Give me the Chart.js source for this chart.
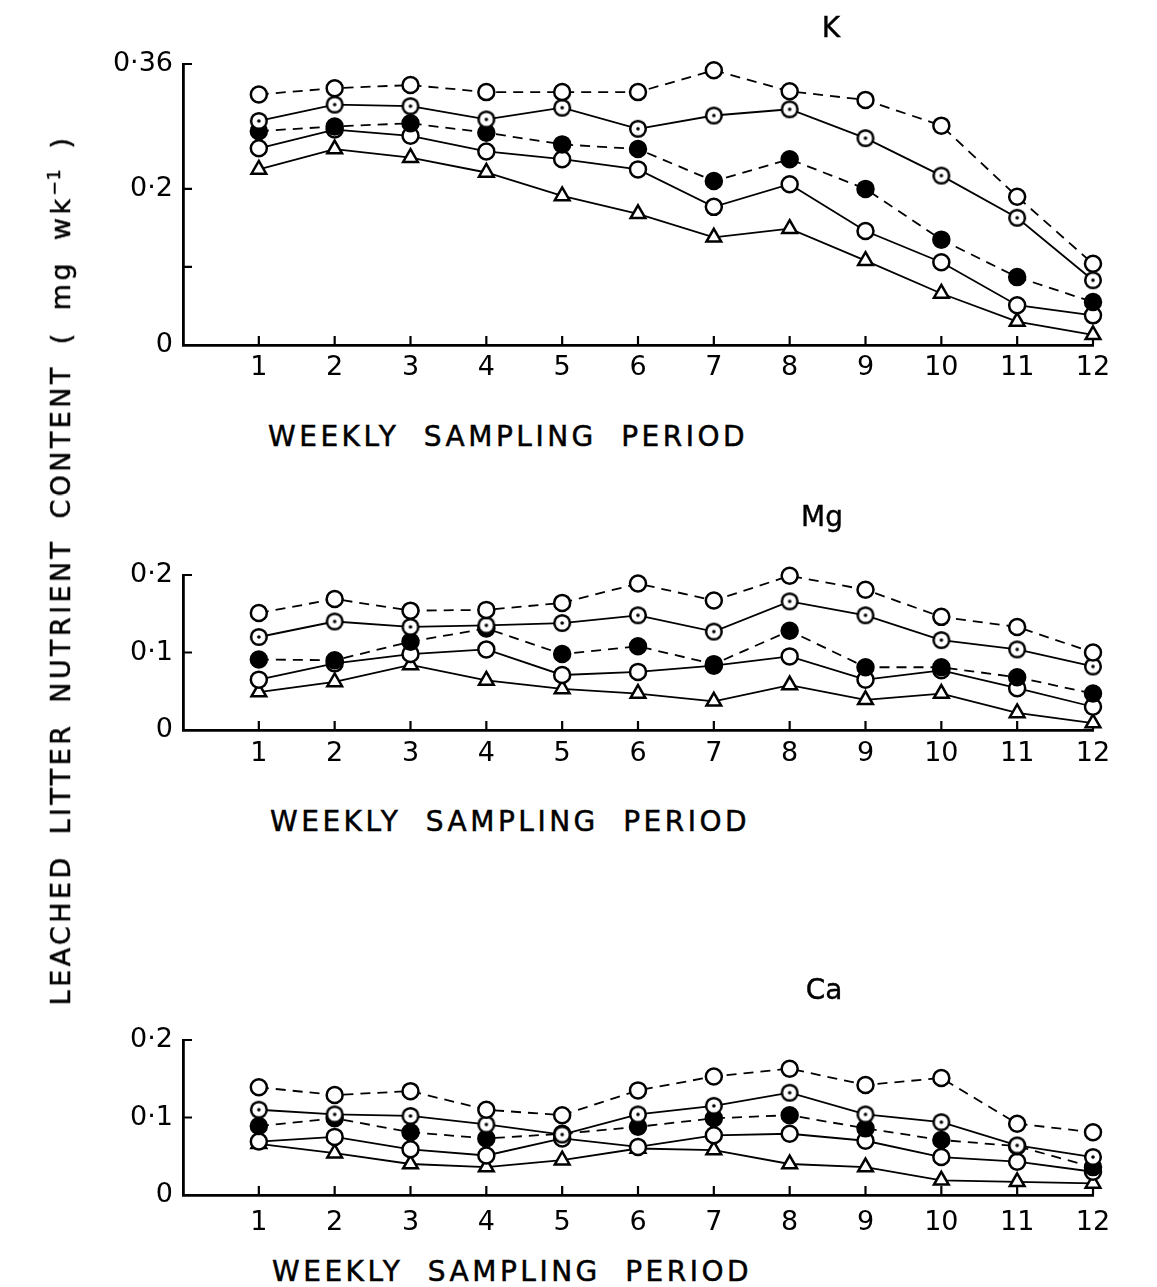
<!DOCTYPE html>
<html>
<head>
<meta charset="utf-8">
<script src="https://cdn.jsdelivr.net/npm/chart.js@4.4.0/dist/chart.umd.min.js"></script>
<style>
  body { margin: 0; background: #fff; }
  #page { position: relative; width: 1157px; height: 1287px; overflow: hidden; font-family: "DejaVu Sans", sans-serif; color: #000; }
  #page canvas { position: absolute; left: 0; }
  .lbl { position: absolute; white-space: nowrap; line-height: 1; }
  .xtitle { font-size: 28px; letter-spacing: 3.5px; word-spacing: 12px; transform: translateY(-50%); -webkit-text-stroke: 0.5px #000; }
  .ptitle { font-size: 28px; transform: translate(-50%, -50%); -webkit-text-stroke: 0.4px #000; }
  #ytitle { left: 60px; top: 570px; font-size: 27px; letter-spacing: 3.4px; word-spacing: 8px; transform: translate(-50%, -50%) rotate(-90deg); -webkit-text-stroke: 0.5px #000; }
  #ytitle sup { font-size: 17px; letter-spacing: 1px; }
</style>
</head>
<body>
<div id="page">
  <canvas id="kChart" width="1157" height="400" style="top:0px"></canvas>
  <canvas id="mgChart" width="1157" height="290" style="top:500px"></canvas>
  <canvas id="caChart" width="1157" height="250" style="top:1000px"></canvas>

  <div class="lbl" id="ytitle">LEACHED LITTER NUTRIENT CONTENT ( mg wk<sup>−1</sup> )</div>

  <div class="lbl ptitle" style="left:831px; top:28px;">K</div>
  <div class="lbl ptitle" style="left:822px; top:517px;">Mg</div>
  <div class="lbl ptitle" style="left:824px; top:990px;">Ca</div>

  <div class="lbl xtitle" style="left:268px; top:437px;">WEEKLY SAMPLING PERIOD</div>
  <div class="lbl xtitle" style="left:270px; top:822px;">WEEKLY SAMPLING PERIOD</div>
  <div class="lbl xtitle" style="left:272px; top:1272px;">WEEKLY SAMPLING PERIOD</div>
</div>

<script>
// weekly sampling periods
const weeks = [1, 2, 3, 4, 5, 6, 7, 8, 9, 10, 11, 12];

// K (mg wk-1)
const kOpenDashed   = [0.321, 0.329, 0.333, 0.324, 0.324, 0.324, 0.352, 0.325, 0.314, 0.281, 0.190, 0.104];
const kDotSolid     = [0.287, 0.308, 0.306, 0.289, 0.304, 0.277, 0.294, 0.302, 0.265, 0.217, 0.163, 0.083];
const kFilledDashed = [0.274, 0.280, 0.284, 0.272, 0.257, 0.251, 0.210, 0.238, 0.200, 0.135, 0.087, 0.055];
const kOpenSolid    = [0.252, 0.276, 0.268, 0.248, 0.238, 0.225, 0.177, 0.206, 0.146, 0.106, 0.051, 0.038];
const kTriangle     = [0.225, 0.251, 0.240, 0.221, 0.191, 0.168, 0.138, 0.149, 0.108, 0.066, 0.030, 0.013];

// Mg
const mgOpenDashed   = [0.151, 0.169, 0.154, 0.155, 0.164, 0.189, 0.167, 0.199, 0.181, 0.146, 0.133, 0.100];
const mgDotSolid     = [0.120, 0.140, 0.133, 0.135, 0.138, 0.148, 0.127, 0.166, 0.148, 0.116, 0.104, 0.082];
const mgFilledDashed = [0.091, 0.090, 0.114, 0.131, 0.098, 0.108, 0.085, 0.128, 0.081, 0.081, 0.068, 0.047];
const mgOpenSolid    = [0.065, 0.086, 0.098, 0.104, 0.071, 0.075, 0.083, 0.095, 0.065, 0.077, 0.054, 0.030];
const mgTriangle     = [0.049, 0.062, 0.084, 0.064, 0.053, 0.047, 0.037, 0.058, 0.039, 0.047, 0.022, 0.009];

// Ca
const caOpenDashed   = [0.139, 0.129, 0.134, 0.110, 0.103, 0.135, 0.153, 0.163, 0.142, 0.151, 0.092, 0.081];
const caDotSolid     = [0.110, 0.104, 0.102, 0.091, 0.078, 0.104, 0.115, 0.132, 0.104, 0.094, 0.064, 0.049];
const caFilledDashed = [0.089, 0.099, 0.081, 0.073, 0.079, 0.088, 0.099, 0.103, 0.086, 0.071, 0.063, 0.036];
const caOpenSolid    = [0.069, 0.075, 0.059, 0.051, 0.073, 0.062, 0.077, 0.079, 0.070, 0.049, 0.043, 0.030];
const caTriangle     = [0.066, 0.054, 0.040, 0.036, 0.045, 0.060, 0.058, 0.040, 0.036, 0.019, 0.017, 0.015];

// y-axis ticks
const kTickValues  = [0, 0.1, 0.2, 0.36];
const kTickLabels  = ['0', '', '0·2', '0·36'];
const mgTickValues = [0, 0.1, 0.2];
const mgTickLabels = ['0', '0·1', '0·2'];
const caTickValues = [0, 0.1, 0.2];
const caTickLabels = ['0', '0·1', '0·2'];

// circle with a dot in the middle
function dottedCircle() {
  const c = document.createElement('canvas');
  c.width = 22; c.height = 22;
  const g = c.getContext('2d');
  g.beginPath();
  g.arc(11, 11, 7.8, 0, Math.PI * 2);
  g.fillStyle = '#fff';
  g.fill();
  g.lineWidth = 2.5;
  g.strokeStyle = '#000';
  g.stroke();
  g.beginPath();
  g.arc(11, 11, 1.8, 0, Math.PI * 2);
  g.fillStyle = '#000';
  g.fill();
  return c;
}
const dotMarker = dottedCircle();

const DASH = [10, 7];

function series(values, style) {
  const base = {
    data: weeks.map((w, i) => ({ x: w, y: values[i] })),
    borderColor: '#000',
    borderWidth: 1.8,
    pointBorderColor: '#000',
    pointBorderWidth: 2.5,
    pointRadius: 8,
    pointHoverRadius: 8,
    tension: 0,
    fill: false
  };
  if (style === 'openDashed') return { ...base, borderDash: DASH, pointStyle: 'circle', pointBackgroundColor: '#fff' };
  if (style === 'dotSolid') return { ...base, pointStyle: dotMarker, pointBackgroundColor: '#fff' };
  if (style === 'filledDashed') return { ...base, borderDash: DASH, pointStyle: 'circle', pointBackgroundColor: '#000' };
  if (style === 'openSolid') return { ...base, pointStyle: 'circle', pointBackgroundColor: '#fff' };
  return { ...base, pointStyle: 'triangle', pointBackgroundColor: '#fff', pointRadius: 8.5 };
}

// short tick marks drawn inward from both axes
const innerTicks = {
  id: 'innerTicks',
  beforeDatasetsDraw(chart) {
    const { ctx, chartArea, scales } = chart;
    ctx.save();
    ctx.strokeStyle = '#000';
    ctx.lineWidth = 2.2;
    ctx.beginPath();
    scales.x.ticks.forEach(t => {
      const px = scales.x.getPixelForValue(t.value);
      ctx.moveTo(px, chartArea.bottom);
      ctx.lineTo(px, chartArea.bottom - 9);
    });
    scales.y.ticks.forEach(t => {
      if (t.value === 0) return;
      const py = scales.y.getPixelForValue(t.value);
      ctx.moveTo(chartArea.left, py);
      ctx.lineTo(chartArea.left + 9, py);
    });
    ctx.stroke();
    ctx.restore();
  }
};

function makePanel(id, data, tickValues, tickLabels, yMax, padTop, xHeight, xPad) {
  const ctx = document.getElementById(id).getContext('2d');
  return new Chart(ctx, {
    type: 'line',
    data: {
      datasets: [
        series(data[0], 'openDashed'),
        series(data[1], 'dotSolid'),
        series(data[2], 'filledDashed'),
        series(data[3], 'openSolid'),
        series(data[4], 'triangle')
      ]
    },
    options: {
      responsive: false,
      animation: false,
      clip: false,
      layout: { padding: { top: padTop, right: 64, left: 0, bottom: 0 } },
      plugins: { legend: { display: false }, tooltip: { enabled: false }, title: { display: false } },
      scales: {
        x: {
          type: 'linear',
          min: 0,
          max: 12,
          afterFit: s => { s.height = xHeight; },
          afterBuildTicks: s => { s.ticks = weeks.map(v => ({ value: v })); },
          grid: { drawOnChartArea: false, drawTicks: false },
          border: { color: '#000', width: 2.8 },
          ticks: {
            color: '#000',
            padding: xPad,
            maxRotation: 0,
            autoSkip: false,
            font: { family: 'DejaVu Sans', size: 27 },
            callback: v => String(v)
          }
        },
        y: {
          type: 'linear',
          min: 0,
          max: yMax,
          afterFit: s => { s.width = 183; },
          afterBuildTicks: s => { s.ticks = tickValues.map(v => ({ value: v })); },
          grid: { drawOnChartArea: false, drawTicks: false },
          border: { color: '#000', width: 2.8 },
          ticks: {
            color: '#000',
            padding: 10,
            font: { family: 'DejaVu Sans', size: 27 },
            callback: (v, i) => tickLabels[i]
          }
        }
      }
    },
    plugins: [innerTicks]
  });
}

makePanel('kChart', [kOpenDashed, kDotSolid, kFilledDashed, kOpenSolid, kTriangle],
  kTickValues, kTickLabels, 0.36, 64, 55, 7);
makePanel('mgChart', [mgOpenDashed, mgDotSolid, mgFilledDashed, mgOpenSolid, mgTriangle],
  mgTickValues, mgTickLabels, 0.2, 75, 60, 8);
makePanel('caChart', [caOpenDashed, caDotSolid, caFilledDashed, caOpenSolid, caTriangle],
  caTickValues, caTickLabels, 0.2, 40, 55, 12);
</script>
</body>
</html>
